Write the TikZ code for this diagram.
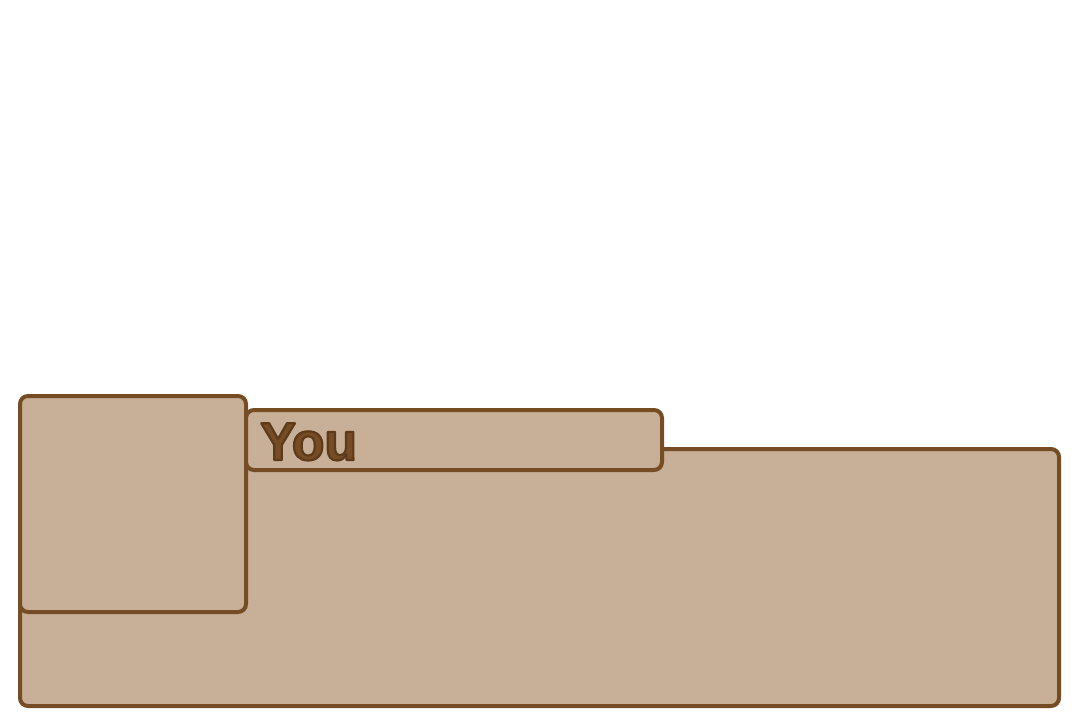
\documentclass[tikz,border=0pt]{standalone}
\usepackage{fontspec}
\setmainfont{Liberation Sans}
\usepackage{xcolor}
\usepackage{tikz}
\usetikzlibrary{positioning}

\definecolor{tan}{HTML}{C8AF97}
\definecolor{edgebrown}{HTML}{754C24}
\definecolor{darkbrown}{HTML}{5C3A1A}
% outlined text: fill, then stroke in dark brown
\newcommand{\outlined}[1]{\special{pdf:literal 0.361 0.227 0.102 RG 1.6 w 1 j 2 Tr}#1\special{pdf:literal 0 Tr}}

\begin{document}
\begin{tikzpicture}[x=0.75pt, y=-0.75pt,
    panel/.style={draw=edgebrown, fill=tan, line width=3pt, rounded corners=6pt, inner sep=0pt},
    label/.style={font=\bfseries\fontsize{40}{40}\selectfont, text=edgebrown, inner sep=0pt, anchor=base west}
]
\useasboundingbox (0,0) rectangle (1080,720);
\node[panel, minimum width=779.25pt, minimum height=192.75pt] (floor) at (539.5,577.5) {};
\node[panel, minimum width=169.5pt, minimum height=162pt] (side) at (133,504) {};
\node[panel, minimum width=312pt, minimum height=45pt] (tag) at (454,440) {};
\node[label] (you) at (260,460) {\outlined{You}};
\end{tikzpicture}
\end{document}
